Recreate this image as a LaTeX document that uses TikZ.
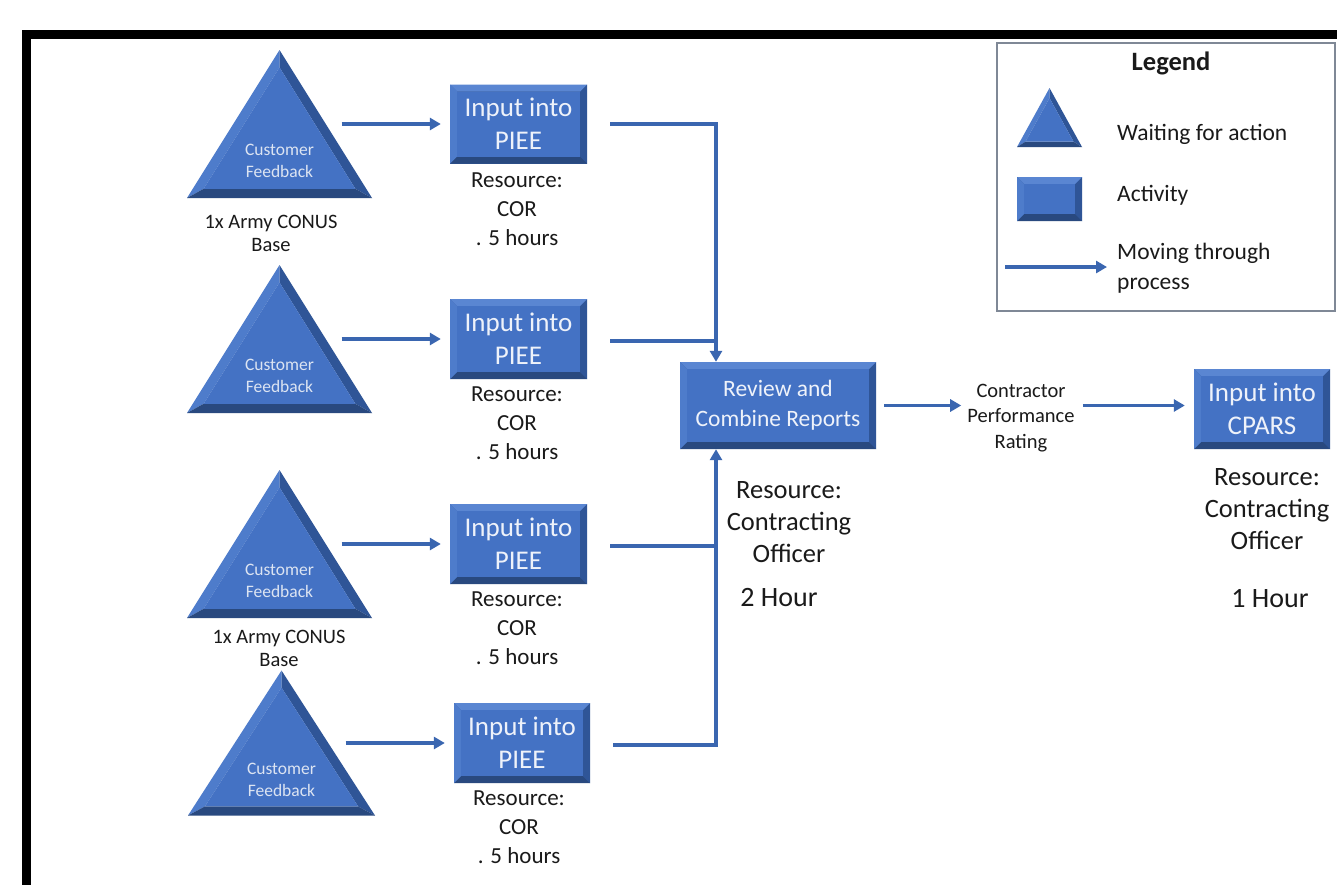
\documentclass[tikz,border=0pt]{standalone}
\usepackage{fontspec}
\setmainfont{Carlito}
\usetikzlibrary{arrows.meta,calc}
\definecolor{face}{HTML}{4472C4}
\definecolor{bevtop}{HTML}{5A86D2}
\definecolor{bevleft}{HTML}{4E7CCB}
\definecolor{bevright}{HTML}{2F5597}
\definecolor{bevbot}{HTML}{29497F}
\definecolor{flowc}{HTML}{3A66B0}
\definecolor{boxtext}{HTML}{EEF2FA}
\definecolor{cftext}{HTML}{DCE4F2}
\definecolor{legc}{HTML}{7F8896}
\definecolor{txt}{HTML}{1A1A1A}
\def\bw{7pt}
\tikzset{
  act/.style={rectangle, inner sep=0pt, fill=bevright, text=boxtext, align=center,
    font=\fontsize{27}{33}\selectfont,
    path picture={
      \path (path picture bounding box.north west) coordinate (pNW)
            (path picture bounding box.north east) coordinate (pNE)
            (path picture bounding box.south west) coordinate (pSW)
            (path picture bounding box.south east) coordinate (pSE);
      \path ([shift={(\bw,-\bw)}]pNW) coordinate (iNW)
            ([shift={(-\bw,-\bw)}]pNE) coordinate (iNE)
            ([shift={(\bw,\bw)}]pSW) coordinate (iSW)
            ([shift={(-\bw,\bw)}]pSE) coordinate (iSE);
      \fill[bevbot] (pSW) -- (pSE) -- (iSE) -- (iSW) -- cycle;
      \fill[bevright] (pSE) -- (pNE) -- (iNE) -- (iSE) -- cycle;
      \fill[bevtop] (pNW) -- (pNE) -- (iNE) -- (iNW) -- cycle;
      \fill[bevleft] (pNW) -- (pSW) -- (iSW) -- (iNW) -- cycle;
      \fill[face] (iNW) rectangle (iSE);
    }},
  tri/.style={rectangle, inner sep=0pt,
    path picture={
      \path (path picture bounding box.north west) coordinate (pNW)
            (path picture bounding box.north east) coordinate (pNE)
            (path picture bounding box.south west) coordinate (pSW)
            (path picture bounding box.south east) coordinate (pSE);
      \path ($(pNW)!0.5!(pNE)$) coordinate (pA)
            ($(pSW)!0.5!(pSE)$) coordinate (pM);
      \path ($(pM)!0.347!(pA)$) coordinate (pI);
      \path ($(pI)!#1!(pA)$) coordinate (iA)
            ($(pI)!#1!(pSW)$) coordinate (iL)
            ($(pI)!#1!(pSE)$) coordinate (iR);
      \fill[bevleft] (pA) -- (pSW) -- (iL) -- (iA) -- cycle;
      \fill[bevright] (pA) -- (pSE) -- (iR) -- (iA) -- cycle;
      \fill[bevbot] (pSW) -- (pSE) -- (iR) -- (iL) -- cycle;
      \fill[face] (iA) -- (iL) -- (iR) -- cycle;
    }},
  tri/.default=0.82,
  cf/.style={label={[font=\fontsize{17.5}{22}\selectfont, text=cftext, align=center, yshift=-37pt]center:Customer\\Feedback}},
  lbl/.style={text=txt, align=center, inner sep=0pt, font=\fontsize{23}{29}\selectfont},
  biglbl/.style={text=txt, align=center, inner sep=0pt, font=\fontsize{26.5}{32}\selectfont},
  flow/.style={draw=flowc, line width=3.2pt, -{Triangle[length=11pt,width=12pt]}},
  flowline/.style={draw=flowc, line width=3.2pt},
}
\begin{document}
\begin{tikzpicture}[x=1pt,y=-1pt]
\useasboundingbox (0,0) rectangle (1337,884);
\clip (0,0) rectangle (1337,884);
\fill[white] (0,0) rectangle (1337,884);
% outer frame
\draw[black, line width=9pt] (26.5,34.5) rectangle (1400,960);

% triangles
\node[tri, cf, minimum width=185, minimum height=148] (t1) at (279.5,124) {};
\node[tri, cf, minimum width=185, minimum height=148] (t2) at (279.5,339) {};
\node[tri, cf, minimum width=185, minimum height=148] (t3) at (279.5,544) {};
\node[tri, cf, minimum width=187, minimum height=145] (t4) at (281.5,743) {};

\node[lbl, font=\fontsize{20.5}{23}\selectfont] (a1) at (271,233) {1x Army CONUS\\Base};
\node[lbl, font=\fontsize{20.5}{23}\selectfont] (a3) at (279,648) {1x Army CONUS\\Base};

% PIEE boxes
\node[act, minimum width=137, minimum height=79] (b1) at (518.5,124) {Input into\\PIEE};
\node[act, minimum width=137, minimum height=80] (b2) at (518.5,339) {Input into\\PIEE};
\node[act, minimum width=137, minimum height=80] (b3) at (518.5,544) {Input into\\PIEE};
\node[act, minimum width=136, minimum height=80] (b4) at (522,743) {Input into\\PIEE};

\node[lbl] (r1) at (517,209) {Resource:\\COR\\. 5 hours};
\node[lbl] (r2) at (517,423) {Resource:\\COR\\. 5 hours};
\node[lbl] (r3) at (517,628) {Resource:\\COR\\. 5 hours};
\node[lbl] (r4) at (519,827) {Resource:\\COR\\. 5 hours};

% review box
\node[act, minimum width=196, minimum height=87, font=\fontsize{23.5}{30}\selectfont] (r) at (778,405.5) {Review and\\Combine Reports};
\node[biglbl] (rr) at (789,522) {Resource:\\Contracting\\Officer};
\node[biglbl, font=\fontsize{28}{32}\selectfont] (rh) at (779,598) {2 Hour};

% contractor performance rating
\node[text=txt, align=center, inner sep=0pt, font=\fontsize{20.5}{25.5}\selectfont] (cpr) at (1021,418) {Contractor\\Performance\\Rating};

% CPARS box
\node[act, minimum width=136, minimum height=80] (c) at (1262,409) {Input into\\CPARS};
\node[biglbl] (cr) at (1267,509) {Resource:\\Contracting\\Officer};
\node[biglbl, font=\fontsize{28}{32}\selectfont] (ch) at (1270,599) {1 Hour};

% connectors
\draw[flow] ($(t1.center)+(62,0)$) -- ($(b1.west |- t1.center)+(-9,0)$);
\draw[flow] ($(t2.center)+(62,0)$) -- ($(b2.west |- t2.center)+(-9,0)$);
\draw[flow] ($(t3.center)+(62,0)$) -- ($(b3.west |- t3.center)+(-9,0)$);
\draw[flow] ($(t4.center)+(64,0)$) -- ($(b4.west |- t4.center)+(-9,0)$);

\coordinate (jx) at ($(r.north)+(-62,0)$);
\coordinate (jy) at ($(r.south)+(-62,0)$);
\draw[flow] ($(b1.east)+(23,0)$) -| (jx);
\draw[flowline] ($(b2.east)+(23,2)$) -- (jx |- {$(b2.east)+(0,2)$});
\draw[flowline] ($(b3.east)+(23,2)$) -- (jx |- {$(b3.east)+(0,2)$});
\draw[flow] ($(b4.east)+(23,2)$) -| (jy);

\draw[flow] ($(r.east)+(8,0)$) -- ($(cpr.west |- r.east)+(-6,0)$);
\draw[flow] ($(cpr.east |- r.east)+(8,0)$) -- ($(c.west |- r.east)+(-9,0)$);

% legend
\node[draw=legc, line width=1.5pt, minimum width=338, minimum height=268, inner sep=0pt] (leg) at (1166,177) {};
\node[text=txt, inner sep=0pt, font=\fontsize{26.5}{30}\selectfont\bfseries] (legt) at (1171,63) {Legend};
\node[tri=0.74, minimum width=65, minimum height=59] (lt) at (1049.5,117.5) {};
\node[lbl, font=\fontsize{23.5}{29}\selectfont, anchor=west] (ltt) at (1117,134) {Waiting for action};
\node[lbl, font=\fontsize{23.5}{29}\selectfont, anchor=west] (lrt) at (1117,195) {Activity};
\node[act, minimum width=65, minimum height=44] (lr) at (1049.5,199) {};
\coordinate (la1) at (1005,267);
\coordinate (la2) at (1107,267);
\draw[flow] (la1) -- (la2);
\node[lbl, font=\fontsize{23.5}{30}\selectfont, anchor=west, align=left] (lat) at (1117,268) {Moving through\\process};
\end{tikzpicture}
\end{document}
